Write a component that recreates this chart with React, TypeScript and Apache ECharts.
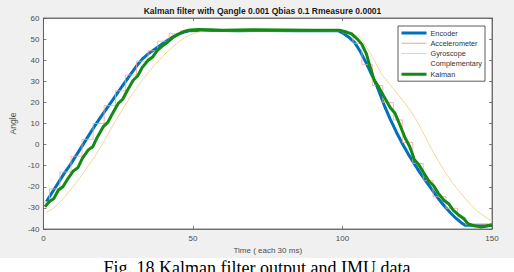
import React, { useEffect, useRef } from "react";
import * as echarts from "echarts";

const titleText = "Kalman filter with Qangle 0.001 Qbias 0.1 Rmeasure 0.0001";
const captionText = "Fig. 18 Kalman filter output and IMU data";
const xName = "Time ( each 30 ms)";
const yName = "Angle";
const seriesNames = ["Encoder", "Accelerometer", "Gyroscope", "Complementary", "Kalman"];

const encoder: [number, number][] = [
  [1, -27], [3, -22.5], [5, -18], [7, -13.5], [9, -9.5], [11, -5], [13, -0.5], [15, 4], [17, 8.5],
  [19, 12.8], [21, 16.8], [23, 20.8], [25, 25], [27, 29], [29, 33], [31, 37], [33, 40.5], [35, 43],
  [37, 45], [39, 47], [41, 49], [43, 50.8], [45, 52.2], [47, 53.3], [49, 54], [55, 54.2], [65, 54],
  [75, 54.1], [85, 54], [95, 54], [98.5, 54], [100, 53], [102, 51], [104, 48.5], [106, 44], [108, 38.5],
  [110, 32.5], [112, 26], [114, 18.5], [116, 12], [118, 6], [120, 0.5], [122, -4.5], [124, -9],
  [126, -13.5], [128, -17.5], [130, -21.5], [132, -25.5], [134, -29], [136, -32.2], [138, -35],
  [140, -37.3], [141, -38.2], [150, -38.2],
];

const accelerometer: [number, number][] = [
  [0.5, -28], [2, -27], [5.5, -21], [9.2, -13], [12.9, -5.5], [16.6, 2.5], [20.3, 10], [24.1, 18.5],
  [27.4, 25.5], [31.1, 33], [35, 39.5], [38.2, 44.5], [42, 49], [45.8, 52.5], [49.5, 54],
  [60, 54], [70, 54], [80, 54], [90, 54], [100, 54], [103.5, 53], [106.5, 48], [110, 38],
  [113.5, 28], [117, 20], [120, 11.7], [123.5, 1], [127, -8.9], [130.3, -17.1], [134.6, -24.7],
  [138.5, -30.2], [141.2, -34.4], [145, -38], [150, -38],
];

const gyroscope: [number, number][] = [
  [1, -32], [3, -30.5], [5, -28], [7, -25], [9, -21.5], [11, -18], [13, -14], [15, -10], [17, -6],
  [19, -1.5], [21, 3.5], [23, 8.5], [25, 13.5], [27, 18], [29, 22.5], [31, 26.5], [33, 30.5],
  [35, 34], [37, 37.5], [39, 40.5], [41, 43.5], [43, 46], [45, 48.5], [47, 50.5], [49, 52],
  [51, 53], [53, 53.7], [56, 54], [70, 54], [85, 54], [100, 53.8], [102, 53], [104, 52],
  [105.5, 51.5], [107, 48.5], [109, 44], [111, 39], [113, 33.5], [115, 30], [117, 26.5],
  [119, 23], [121, 19.5], [123, 15.5], [125, 11], [127, 5.5], [129, 0], [131, -5], [133, -10],
  [135, -14.5], [137, -18.5], [139, -22], [141, -25.5], [143, -28.5], [145, -31.5], [147, -33.5],
  [149, -35.5], [150, -36],
];

const kalman: [number, number][] = [
  [0.5, -29.5], [2, -27], [3.5, -25.5], [5, -21.5], [6.5, -20], [8, -16.5], [10, -12.5], [11.5, -11],
  [13, -6.5], [15, -2.5], [16.5, -1], [18, 3.5], [20, 8.5], [21.5, 10.5], [23, 14.5], [25, 19.5],
  [26.5, 21.5], [28, 25.5], [30, 30.5], [31.5, 32.5], [33, 36.5], [35, 40], [36.5, 41.5], [38, 44.5],
  [40, 47], [41.5, 48.5], [43, 50.5], [45, 52.3], [47, 53.6], [49, 54.3], [52, 54.5], [60, 54.2],
  [70, 54.4], [80, 54.3], [90, 54.2], [99, 54.2], [101, 53.5], [103, 52.5], [105, 50], [106.5, 47.5],
  [108, 43], [109, 38], [110.5, 31], [112, 27.5], [114, 22.5], [116, 17.5], [117.5, 15],
  [119, 10], [121, 3], [122.5, -1], [124, -7], [125.5, -9.5], [127, -13], [129, -17.5],
  [130.5, -19.5], [132, -23], [134, -26.5], [135.5, -28], [137, -31], [139, -33.5], [140.5, -35],
  [142, -37.5], [144, -38.5], [146, -39], [148, -38.7], [150, -38],
];

const axisColor = "#5c5c5c";
const labelColor = "#4d4d4d";
const font = "Liberation Sans";

const thickIcon = "path://M0,0 H25 V0.01 H0 Z M0,2.5 H25 V5.5 H0 Z M0,8 H25 V7.99 H0 Z";
const thinIcon = "path://M0,0 H25 V0.01 H0 Z M0,3.5 H25 V4.5 H0 Z M0,8 H25 V7.99 H0 Z";

export default function App() {
  const ref = useRef<HTMLDivElement>(null);
  useEffect(() => {
    if (!ref.current) return;
    const chart = echarts.init(ref.current, undefined, { renderer: "svg" });
    const axisCommon = {
      axisLine: { show: true, onZero: false, lineStyle: { color: axisColor, width: 0.8 } },
      axisTick: { show: true, inside: true, length: 3, lineStyle: { color: axisColor, width: 0.8 } },
      splitLine: { show: false },
    };
    const colors = {
      Encoder: "#0072BD",
      Accelerometer: "#eaa894",
      Gyroscope: "#f0d48f",
      Complementary: "rgba(0,0,0,0)",
      Kalman: "#138a13",
    };
    chart.setOption({
      animation: false,
      title: {
        text: titleText,
        left: 262.5,
        textAlign: "center",
        top: 6,
        padding: 0,
        textStyle: { fontFamily: font, fontSize: 8.5, fontWeight: "bold", color: "#1a1a1a" },
      },
      grid: {
        left: 33,
        right: 22,
        top: 18,
        bottom: 43,
        show: true,
        backgroundColor: "#ffffff",
        borderColor: axisColor,
        borderWidth: 0.8,
      },
      legend: {
        data: [
          { name: seriesNames[0], icon: thickIcon, itemStyle: { color: colors.Encoder } },
          { name: seriesNames[1], icon: thinIcon, itemStyle: { color: colors.Accelerometer } },
          { name: seriesNames[2], icon: thinIcon, itemStyle: { color: colors.Gyroscope } },
          { name: seriesNames[3], icon: thinIcon, itemStyle: { color: colors.Complementary } },
          { name: seriesNames[4], icon: thickIcon, itemStyle: { color: colors.Kalman } },
        ],
        orient: "vertical",
        left: 398,
        top: 26,
        itemWidth: 25,
        itemHeight: 8,
        itemGap: 2.3,
        symbolKeepAspect: false,
        itemStyle: { borderWidth: 0 },
        padding: [3, 3, 3, 3.5],
        backgroundColor: "#ffffff",
        borderColor: "#333333",
        borderWidth: 0.8,
        borderRadius: 0,
        selectedMode: false,
        textStyle: { fontFamily: font, fontSize: 7.3, color: "#333333", padding: [0, 0, 0, -1] },
      },
      xAxis: [
        {
          type: "value",
          min: 0,
          max: 150,
          interval: 50,
          position: "bottom",
          name: xName,
          nameLocation: "middle",
          nameGap: 17,
          nameTextStyle: { fontFamily: font, fontSize: 8, color: labelColor },
          axisLabel: { fontFamily: font, fontSize: 8, color: labelColor, margin: 5 },
          ...axisCommon,
        },
        {
          type: "value",
          min: 0,
          max: 150,
          interval: 50,
          position: "top",
          axisLabel: { show: false },
          ...axisCommon,
        },
      ],
      yAxis: [
        {
          type: "value",
          min: -40,
          max: 60,
          interval: 10,
          position: "left",
          name: yName,
          nameLocation: "middle",
          nameGap: 16,
          nameTextStyle: { fontFamily: font, fontSize: 8.5, color: labelColor },
          axisLabel: { fontFamily: font, fontSize: 8, color: labelColor, margin: 4 },
          ...axisCommon,
        },
        {
          type: "value",
          min: -40,
          max: 60,
          interval: 10,
          position: "right",
          axisLabel: { show: false },
          ...axisCommon,
        },
      ],
      series: [
        {
          name: "Encoder",
          type: "line",
          data: encoder,
          symbol: "none",
          lineStyle: { color: colors.Encoder, width: 3 },
          itemStyle: { color: colors.Encoder },
          z: 2,
        },
        {
          name: "Accelerometer",
          type: "line",
          data: accelerometer,
          step: "start",
          symbol: "none",
          lineStyle: { color: colors.Accelerometer, width: 0.8 },
          itemStyle: { color: colors.Accelerometer },
          z: 3,
        },
        {
          name: "Gyroscope",
          type: "line",
          data: gyroscope,
          symbol: "none",
          lineStyle: { color: colors.Gyroscope, width: 0.9 },
          itemStyle: { color: colors.Gyroscope },
          z: 3,
        },
        {
          name: "Complementary",
          type: "line",
          data: [],
          symbol: "none",
          lineStyle: { color: colors.Complementary, width: 1 },
          itemStyle: { color: colors.Complementary },
        },
        {
          name: "Kalman",
          type: "line",
          data: kalman,
          symbol: "none",
          lineStyle: { color: colors.Kalman, width: 3 },
          itemStyle: { color: colors.Kalman },
          z: 4,
        },
      ],
      graphic: [
        {
          type: "text",
          left: "center",
          top: 259,
          style: {
            text: captionText,
            fontFamily: "Liberation Serif",
            fontSize: 18,
            fill: "#000000",
          },
        },
      ],
    });
    return () => chart.dispose();
  }, []);
  return (
    <div
      ref={ref}
      style={{
        position: "fixed",
        left: 0,
        top: 0,
        width: 514,
        height: 272,
        background: "linear-gradient(#f0f0f0 0px, #f0f0f0 258px, #ffffff 258px, #ffffff 272px)",
      }}
    />
  );
}
